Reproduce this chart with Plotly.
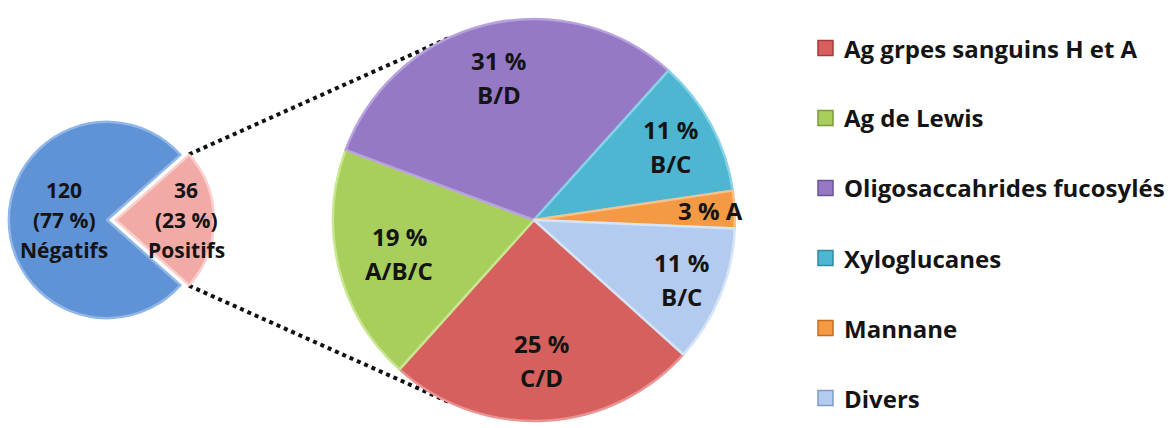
import math
import plotly.graph_objects as go

# ---- data ----
main_labels = ["Négatifs", "Positifs"]
main_counts = [120, 36]
main_pcts = [77, 23]

sub_labels = ["Ag grpes sanguins H et A", "Ag de Lewis", "Oligosaccahrides fucosylés",
              "Xyloglucanes", "Mannane", "Divers"]
sub_pcts = [25, 19, 31, 11, 3, 11]
sub_codes = ["C/D", "A/B/C", "B/D", "B/C", "A", "B/C"]

# ---- styling ----
W, H = 1171, 428
main_colors = ["#5f93d6", "#f2aaa7"]
main_edges = ["#8fb6e8", "#f8cfcd"]
sub_colors = ["#d6605e", "#a8cf5c", "#9579c5", "#4fb6d2", "#f49a45", "#b3cbef"]
sub_edges = ["#e99492", "#c9e690", "#b7a2de", "#86d3e8", "#f8c08a", "#d6e4f8"]
legend_dark = ["#a33c3a", "#7a9a3a", "#6b5494", "#2f8aa3", "#c46d1e", "#7f9cc8"]
text_color = "#141414"
FONT = "Open Sans"

# geometry (pixels)
main_cx, main_cy, main_r, main_pull = 106, 220, 99, 0.09
sub_cx, sub_cy, sub_r = 534, 220, 201
label_k_main = [0.42, 0.72]
label_k_sub = [0.70, 0.69, 0.73, 0.77, 0.88, 0.79]
main_line_gap, sub_line_gap = 30, 34
main_font, sub_font, legend_font = 21, 24, 24


def px_to_paper(x, y):
    return x / W, 1 - y / H


def domain_for(cx, cy, r, pull):
    half = r * (1 + pull)
    x0, y0 = px_to_paper(cx - half, cy + half)
    x1, y1 = px_to_paper(cx + half, cy - half)
    return dict(x=[max(0, x0), min(1, x1)], y=[max(0, y0), min(1, y1)])


def slice_angles(values, rotation):
    """Start/end math angles (deg, counterclockwise from east) for a clockwise pie."""
    total = float(sum(values))
    start = 90 - rotation
    out = []
    for v in values:
        span = 360 * v / total
        out.append((start, start - span))
        start -= span
    return out


def text_block(lines, cx, cy, gap, size):
    """Centred multi-line label, one annotation per line."""
    n = len(lines)
    for j, line in enumerate(lines):
        y = cy + (j - (n - 1) / 2) * gap
        px, py = px_to_paper(cx, y)
        annotations.append(dict(
            x=px, y=py, xref="paper", yref="paper", xanchor="center", yanchor="middle",
            showarrow=False, text=f"<b>{line}</b>",
            font=dict(family=FONT, size=size, color=text_color),
        ))


main_rotation = 90 + 360 * main_counts[1] / sum(main_counts) / 2  # positive slice centred east
sub_rotation = 132

fig = go.Figure()

fig.add_trace(go.Pie(
    labels=main_labels, values=main_counts, sort=False, direction="clockwise",
    rotation=main_rotation, pull=[0, main_pull], textinfo="none", hoverinfo="label+value+percent",
    marker=dict(colors=main_colors, line=dict(color=main_edges, width=2.5)),
    domain=domain_for(main_cx, main_cy, main_r, main_pull), showlegend=False,
))

fig.add_trace(go.Pie(
    labels=sub_labels, values=sub_pcts, sort=False, direction="clockwise",
    rotation=sub_rotation, textinfo="none", hoverinfo="label+percent",
    marker=dict(colors=sub_colors, line=dict(color=sub_edges, width=2.5)),
    domain=domain_for(sub_cx, sub_cy, sub_r, 0), showlegend=False,
))

annotations = []
shapes = []

# labels of the main pie
for i, (a0, a1) in enumerate(slice_angles(main_counts, main_rotation)):
    mid = math.radians((a0 + a1) / 2)
    ox, oy = main_cx, main_cy
    if i == 1:
        ox += main_pull * main_r * math.cos(mid)
        oy -= main_pull * main_r * math.sin(mid)
    lx = ox + label_k_main[i] * main_r * math.cos(mid)
    ly = oy - label_k_main[i] * main_r * math.sin(mid)
    text_block([str(main_counts[i]), f"({main_pcts[i]} %)", main_labels[i]],
               lx, ly, main_line_gap, main_font)

# labels of the breakdown pie
for i, (a0, a1) in enumerate(slice_angles(sub_pcts, sub_rotation)):
    mid = math.radians((a0 + a1) / 2)
    lx = sub_cx + label_k_sub[i] * sub_r * math.cos(mid)
    ly = sub_cy - label_k_sub[i] * sub_r * math.sin(mid)
    if sub_pcts[i] < 5:
        lines = [f"{sub_pcts[i]} % {sub_codes[i]}"]
    else:
        lines = [f"{sub_pcts[i]} %", sub_codes[i]]
    text_block(lines, lx, ly, sub_line_gap, sub_font)

# dotted connectors from the positive slice to the breakdown pie
pos_a0, pos_a1 = slice_angles(main_counts, main_rotation)[1]
pos_mid = math.radians((pos_a0 + pos_a1) / 2)
pvx = main_cx + main_pull * main_r * math.cos(pos_mid)
pvy = main_cy - main_pull * main_r * math.sin(pos_mid)
for edge_angle, target_angle in ((pos_a0, 115), (pos_a1, 245)):
    ea = math.radians(edge_angle)
    sx, sy = pvx + main_r * math.cos(ea), pvy - main_r * math.sin(ea)
    ta = math.radians(target_angle)
    tx, ty = sub_cx + sub_r * math.cos(ta), sub_cy - sub_r * math.sin(ta)
    x0, y0 = px_to_paper(sx, sy)
    x1, y1 = px_to_paper(tx, ty)
    shapes.append(dict(type="line", xref="paper", yref="paper", x0=x0, y0=y0, x1=x1, y1=y1,
                       line=dict(color="#111111", width=4, dash="dot"), layer="below"))

# legend
leg_x, leg_y0, leg_dy, sq = 818, 48, 70, 15
for i, name in enumerate(sub_labels):
    cy = leg_y0 + i * leg_dy
    x0, y0 = px_to_paper(leg_x, cy + sq / 2)
    x1, y1 = px_to_paper(leg_x + sq, cy - sq / 2)
    shapes.append(dict(type="rect", xref="paper", yref="paper", x0=x0, y0=y0, x1=x1, y1=y1,
                       fillcolor=sub_colors[i], line=dict(color=legend_dark[i], width=1.5)))
    tx, ty = px_to_paper(leg_x + sq + 9, cy)
    annotations.append(dict(
        x=tx, y=ty, xref="paper", yref="paper", xanchor="left", yanchor="middle",
        showarrow=False, text=f"<b>{name}</b>",
        font=dict(family=FONT, size=legend_font, color=text_color),
    ))

fig.update_layout(
    width=W, height=H, margin=dict(l=0, r=0, t=0, b=0),
    paper_bgcolor="white", plot_bgcolor="white",
    annotations=annotations, shapes=shapes, showlegend=False,
)

fig.write_html("out.html")
